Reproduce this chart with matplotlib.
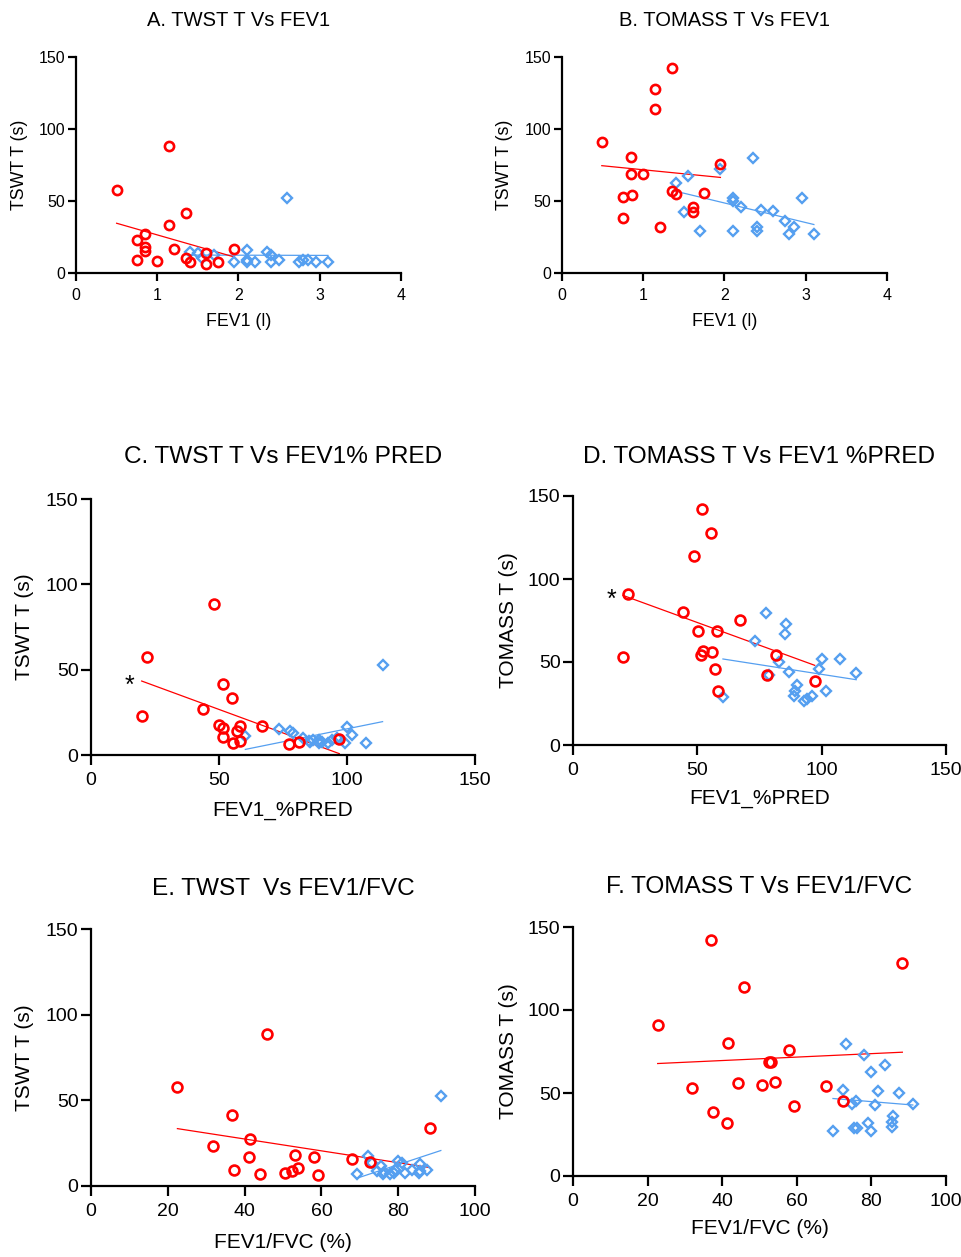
import numpy as np
import matplotlib
matplotlib.use("Agg")
import matplotlib.pyplot as plt

plt.rcParams['font.family'] = ['Liberation Sans', 'DejaVu Sans']

RED = '#ff0000'
BLUE = '#559ff0'

# A. TWST vs FEV1 (l)
a_copd_x = [0.50, 1.15, 1.35, 1.15, 0.85, 0.75, 0.85, 0.85, 1.20, 0.75, 1.00, 1.35, 1.40, 1.60, 1.60, 1.75, 1.95]
a_copd_y = [57.5, 88.3, 41.4, 33.6, 27.1, 23.0, 17.9, 15.4, 16.6, 9.2, 8.5, 10.4, 7.4, 13.8, 6.4, 7.4, 16.6]
a_ctrl_x = [1.40, 1.50, 1.55, 1.70, 1.95, 2.10, 2.10, 2.10, 2.20, 2.35, 2.40, 2.40, 2.50, 2.60, 2.75, 2.80, 2.85, 2.95, 3.10]
a_ctrl_y = [14.3, 13.8, 10.4, 12.7, 7.4, 16.1, 9.2, 7.4, 7.4, 14.3, 12.7, 7.4, 8.7, 52.4, 7.4, 9.2, 8.7, 7.4, 7.4]

# B. TOMASS vs FEV1 (l)
b_copd_x = [0.49, 1.15, 1.15, 1.35, 0.85, 0.85, 1.00, 0.75, 0.86, 0.75, 1.21, 1.35, 1.40, 1.75, 1.61, 1.61, 1.95]
b_copd_y = [90.9, 128.1, 113.6, 142.2, 80.5, 68.6, 68.6, 53.1, 54.1, 38.2, 32.2, 56.6, 54.8, 55.9, 46.0, 42.1, 75.9]
b_ctrl_x = [1.40, 1.55, 1.95, 2.35, 1.50, 1.70, 2.10, 2.10, 2.20, 2.10, 2.40, 2.40, 2.45, 2.60, 2.75, 2.80, 2.85, 2.95, 3.10]
b_ctrl_y = [62.6, 67.2, 72.5, 79.6, 42.3, 29.2, 51.8, 50.2, 46.0, 29.2, 32.2, 29.2, 43.7, 43.0, 35.9, 26.9, 32.2, 51.8, 26.9]

# C. TWST vs FEV1 %pred
c_copd_x = [48.2, 21.7, 19.8, 51.4, 54.9, 43.8, 50.1, 51.4, 58.2, 57.2, 51.7, 55.3, 58.2, 66.8, 77.5, 81.4, 97.0]
c_copd_y = [88.5, 57.6, 23.0, 41.6, 33.6, 27.1, 17.8, 15.8, 17.0, 13.9, 10.4, 7.0, 8.4, 16.8, 6.4, 7.4, 9.4]
c_ctrl_x = [60.3, 73.3, 77.6, 78.8, 83.0, 85.3, 85.7, 86.7, 88.9, 89.2, 90.2, 92.7, 94.1, 96.0, 99.1, 100.0, 101.9, 107.3, 113.9]
c_ctrl_y = [11.3, 15.0, 14.0, 13.0, 10.0, 8.0, 7.5, 9.0, 7.0, 8.5, 7.5, 7.0, 9.0, 10.0, 7.0, 16.5, 12.0, 7.0, 52.5]

# D. TOMASS vs FEV1 %pred
d_copd_x = [51.7, 55.3, 48.6, 22.0, 20.1, 44.2, 50.1, 58.1, 67.1, 52.1, 51.3, 55.7, 57.2, 58.3, 78.0, 81.6, 97.2]
d_copd_y = [142.0, 127.9, 113.6, 90.7, 52.9, 80.4, 68.6, 68.4, 75.6, 56.9, 54.5, 55.9, 45.6, 32.4, 42.2, 54.5, 38.4]
d_ctrl_x = [77.6, 85.7, 85.3, 73.3, 83.0, 78.8, 86.7, 60.3, 90.2, 89.2, 88.9, 92.7, 94.1, 96.0, 100.0, 99.1, 101.9, 107.3, 113.9]
d_ctrl_y = [79.4, 73.0, 66.8, 62.5, 49.9, 42.4, 44.0, 28.8, 36.4, 32.4, 29.8, 26.7, 27.8, 29.8, 51.9, 45.6, 32.4, 51.7, 43.2]

# E. TWST vs FEV1/FVC
e_copd_x = [45.9, 22.5, 36.8, 88.2, 31.7, 41.4, 41.2, 53.0, 58.1, 67.9, 72.6, 37.2, 44.1, 50.6, 52.3, 54.0, 59.0]
e_copd_y = [88.7, 58.0, 41.6, 34.0, 23.4, 27.3, 17.0, 18.0, 17.2, 15.8, 14.1, 9.4, 7.2, 7.4, 9.0, 10.7, 6.6]
e_ctrl_x = [69.4, 72.2, 73.1, 74.4, 75.5, 76.0, 76.3, 77.9, 79.2, 80.0, 80.9, 81.7, 83.7, 85.7, 85.5, 87.5, 91.1, 79.0, 85.8]
e_ctrl_y = [7.2, 17.4, 13.7, 9.0, 11.7, 6.8, 8.4, 7.2, 9.2, 14.5, 13.3, 7.3, 9.4, 12.8, 7.4, 9.6, 52.7, 7.5, 8.5]

# F. TOMASS vs FEV1/FVC
f_copd_x = [37.0, 88.3, 45.9, 22.7, 41.5, 58.0, 52.6, 53.1, 32.0, 44.3, 50.8, 54.1, 67.8, 37.5, 41.4, 59.3, 72.5]
f_copd_y = [142.3, 128.2, 113.9, 90.9, 80.4, 75.7, 68.6, 68.6, 53.1, 56.1, 54.7, 56.5, 54.1, 38.4, 32.1, 42.0, 45.4]
f_ctrl_x = [73.2, 77.9, 83.7, 79.9, 72.3, 81.8, 87.5, 74.7, 76.0, 81.0, 91.1, 85.8, 85.6, 85.6, 79.1, 75.4, 76.1, 69.7, 79.9]
f_ctrl_y = [79.5, 72.9, 67.0, 62.6, 52.1, 51.5, 50.3, 43.2, 45.4, 42.6, 43.2, 35.9, 32.5, 29.3, 32.1, 28.9, 28.9, 27.1, 26.9]

W, H = 962, 1257
fig = plt.figure(figsize=(W / 100, H / 100), dpi=100, facecolor='white')


def make_ax(l, r, t, b):
    return fig.add_axes([l / W, 1 - b / H, (r - l) / W, (b - t) / H])


def fit_line(ax, x, y, color):
    x = np.asarray(x); y = np.asarray(y)
    k, c = np.polyfit(x, y, 1)
    xs = np.array([x.min(), x.max()])
    ax.plot(xs, k * xs + c, color=color, lw=0.9, zorder=2)


def panel(ax, copd, ctrl, xlim, xticks, xlabel, ylabel, big):
    ms_o = 7.1 if big else 6.6
    ms_d = 5.3 if big else 4.7
    ax.plot(ctrl[0], ctrl[1], 'D', ms=ms_d, mfc='none', mec=BLUE, mew=1.7, ls='none', clip_on=False, zorder=3)
    ax.plot(copd[0], copd[1], 'o', ms=ms_o, mfc='none', mec=RED, mew=1.9, ls='none', clip_on=False, zorder=4)
    fit_line(ax, ctrl[0], ctrl[1], BLUE)
    fit_line(ax, copd[0], copd[1], RED)

    ax.set_xlim(*xlim)
    ax.set_ylim(0, 150)
    ax.set_xticks(xticks)
    ax.set_yticks([0, 50, 100, 150])
    for s in ['top', 'right']:
        ax.spines[s].set_visible(False)
    for s in ['left', 'bottom']:
        ax.spines[s].set_linewidth(1.6)
    tick_fs = 14 if big else 11.5
    lab_fs = 15 if big else 12.8
    ax.tick_params(direction='out', length=7 if big else 6, width=1.6, labelsize=tick_fs)
    ax.tick_params(axis='x', pad=5)
    ax.tick_params(axis='y', pad=2)

    ax.set_xlabel(xlabel, fontsize=lab_fs, va='center')
    ax.set_ylabel(ylabel, fontsize=lab_fs, va='center')
    return ax


boxes = {
    'A': (76, 401, 57, 273),
    'B': (562, 887, 57, 273),
    'C': (91, 475, 499, 755),
    'D': (573, 946, 496, 745),
    'E': (91, 475, 929, 1186),
    'F': (573, 946, 927, 1176),
}
# label / title centres in pixels: (title_y, xlabel_y, ylabel_x)
label_pos = {
    'A': (21, 322, 19),
    'B': (21, 322, 505),
    'C': (457, 811, 25),
    'D': (457, 799, 509),
    'E': (889, 1242, 25),
    'F': (887, 1229, 509),
}

specs = [
    ('A', (a_copd_x, a_copd_y), (a_ctrl_x, a_ctrl_y), (0, 4), [0, 1, 2, 3, 4],
     'A. TWST T Vs FEV1', 'FEV1 (l)', 'TSWT T (s)', False),
    ('B', (b_copd_x, b_copd_y), (b_ctrl_x, b_ctrl_y), (0, 4), [0, 1, 2, 3, 4],
     'B. TOMASS T Vs FEV1', 'FEV1 (l)', 'TSWT T (s)', False),
    ('C', (c_copd_x, c_copd_y), (c_ctrl_x, c_ctrl_y), (0, 150), [0, 50, 100, 150],
     'C. TWST T Vs FEV1% PRED', 'FEV1_%PRED', 'TSWT T (s)', True),
    ('D', (d_copd_x, d_copd_y), (d_ctrl_x, d_ctrl_y), (0, 150), [0, 50, 100, 150],
     'D. TOMASS T Vs FEV1 %PRED', 'FEV1_%PRED', 'TOMASS T (s)', True),
    ('E', (e_copd_x, e_copd_y), (e_ctrl_x, e_ctrl_y), (0, 100), [0, 20, 40, 60, 80, 100],
     'E. TWST  Vs FEV1/FVC', 'FEV1/FVC (%)', 'TSWT T (s)', True),
    ('F', (f_copd_x, f_copd_y), (f_ctrl_x, f_ctrl_y), (0, 100), [0, 20, 40, 60, 80, 100],
     'F. TOMASS T Vs FEV1/FVC', 'FEV1/FVC (%)', 'TOMASS T (s)', True),
]

axes = {}
for key, copd, ctrl, xlim, xt, ttl, xl, yl, big in specs:
    box = boxes[key]
    ax = make_ax(*box)
    panel(ax, copd, ctrl, xlim, xt, xl, yl, big)
    l, r, t, b = box
    ty, xy, yx = label_pos[key]
    ax.set_title(ttl, fontsize=17.6 if big else 14.5, y=1 + (t - ty) / (b - t), pad=0, va='center')
    ax.xaxis.set_label_coords(0.5, -(xy - b) / (b - t))
    ax.yaxis.set_label_coords(-(l - yx) / (r - l), 0.5)
    axes[key] = ax

# significance markers
axes['C'].text(15.2, 36.5, '*', fontsize=18, ha='center', va='baseline')
axes['D'].text(15.4, 83.5, '*', fontsize=18, ha='center', va='baseline')

fig.savefig('out.png', dpi=100, facecolor='white')
